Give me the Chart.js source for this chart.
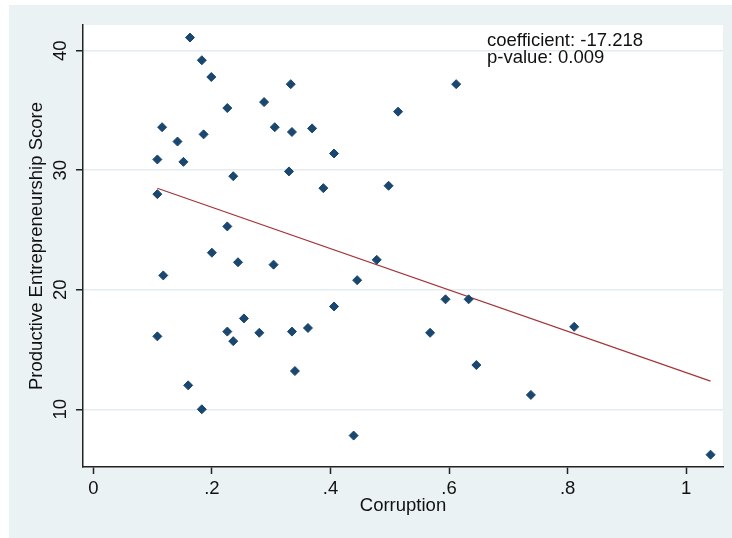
<!DOCTYPE html>
<html>
<head>
<meta charset="utf-8">
<script src="https://cdn.jsdelivr.net/npm/chart.js@4.4.1/dist/chart.umd.min.js"></script>
<style>
  html, body { margin: 0; padding: 0; background: #ffffff; }
  #wrap { position: absolute; left: 9px; top: 5px; width: 723px; height: 533px; background: #eaf2f3; }
</style>
</head>
<body>
<div id="wrap"><canvas id="chartOne"></canvas></div>
<script>
// corruption (x) and productive entrepreneurship score (y), one pair per country
var corruption = [0.163, 0.183, 0.199, 0.333, 0.288, 0.226, 0.116, 0.306, 0.369, 0.335,
                  0.142, 0.186, 0.108, 0.152, 0.330, 0.236, 0.108, 0.226, 0.514, 0.406,
                  0.388, 0.498, 0.478, 0.612, 0.200, 0.118, 0.244, 0.304, 0.406, 0.254,
                  0.226, 0.236, 0.280, 0.335, 0.362, 0.108, 0.340, 0.160, 0.183, 0.445,
                  0.594, 0.633, 0.568, 0.646, 0.439, 0.811, 0.738, 1.041];
var score = [41.1, 39.2, 37.8, 37.2, 35.7, 35.2, 33.6, 33.6, 33.5, 33.2,
             32.4, 33.0, 30.9, 30.7, 29.9, 29.5, 28.0, 25.3, 34.9, 31.4,
             28.5, 28.7, 22.5, 37.2, 23.1, 21.2, 22.3, 22.1, 18.6, 17.6,
             16.5, 15.7, 16.4, 16.5, 16.8, 16.1, 13.2, 12.0, 10.0, 20.8,
             19.2, 19.2, 16.4, 13.7, 7.8, 16.9, 11.2, 6.2];
// fitted line end points
var fitX = [0.108, 1.041];
var fitY = [28.49, 12.35];

var xTicks = [0, 0.2, 0.4, 0.6, 0.8, 1];
var xTickLabels = ["0", ".2", ".4", ".6", ".8", "1"];
var yTicks = [10, 20, 30, 40];
var notes = ["coefficient: -17.218", "p-value: 0.009"];

var points = corruption.map(function (c, i) { return { x: c, y: score[i] }; });
var fit = fitX.map(function (c, i) { return { x: c, y: fitY[i] }; });

var font = { family: "'Liberation Sans', Arial, sans-serif", size: 18.5 };

var plotBg = {
  id: 'plotBg',
  beforeDraw: function (chart) {
    var a = chart.chartArea, ctx = chart.ctx;
    ctx.save();
    ctx.fillStyle = '#ffffff';
    ctx.fillRect(a.left, a.top, a.right - a.left, a.bottom - a.top);
    ctx.restore();
  }
};

var noteText = {
  id: 'noteText',
  afterDraw: function (chart) {
    var ctx = chart.ctx;
    var x = chart.scales.x.getPixelForValue(0.664);
    ctx.save();
    ctx.font = font.size + "px " + font.family;
    ctx.fillStyle = '#111';
    ctx.textAlign = 'left';
    ctx.textBaseline = 'middle';
    notes.forEach(function (t, i) {
      ctx.fillText(t, x, chart.scales.y.getPixelForValue(40.8 - i * 1.42));
    });
    ctx.restore();
  }
};

Chart.defaults.color = '#111';

var ctx = document.getElementById("chartOne");
var chartOne = new Chart(ctx, {
  type: 'scatter',
  data: {
    datasets: [
      {
        data: points,
        pointStyle: 'rectRot',
        pointRadius: 4.5,
        pointBorderWidth: 1,
        backgroundColor: '#1a476f',
        borderColor: '#1a476f'
      },
      {
        data: fit,
        showLine: true,
        pointRadius: 0,
        borderColor: '#a3343a',
        borderWidth: 1.2
      }
    ]
  },
  options: {
    responsive: true,
    maintainAspectRatio: false,
    animation: false,
    layout: { padding: { top: 20, right: 9, left: 0, bottom: 0 } },
    plugins: { legend: { display: false }, tooltip: { enabled: false } },
    scales: {
      x: {
        type: 'linear',
        min: -0.0174,
        max: 1.062,
        afterBuildTicks: function (s) { s.ticks = xTicks.map(function (v) { return { value: v }; }); },
        afterFit: function (s) { s.height = 71; },
        ticks: {
          font: font,
          padding: 4,
          maxRotation: 0,
          callback: function (v, i) { return xTickLabels[i]; }
        },
        grid: { drawOnChartArea: false, tickLength: 7, tickColor: '#222', tickWidth: 1.5 },
        border: { color: '#222', width: 1.5 },
        title: { display: true, text: 'Corruption', font: font, padding: { top: 0, bottom: 21 } }
      },
      y: {
        type: 'linear',
        min: 5.17,
        max: 42.15,
        afterBuildTicks: function (s) { s.ticks = yTicks.map(function (v) { return { value: v }; }); },
        afterFit: function (s) { s.width = 74; },
        ticks: {
          font: font,
          padding: 5,
          minRotation: 90,
          maxRotation: 90,
          crossAlign: 'center'
        },
        grid: { color: '#e3ecef', lineWidth: 1.5, tickLength: 7, tickColor: '#222', tickWidth: 1.5 },
        border: { color: '#222', width: 1.5 },
        title: { display: true, text: 'Productive Entrepreneurship Score', font: font, padding: { top: 17, bottom: 0 } }
      }
    }
  },
  plugins: [plotBg, noteText]
});
</script>
</body>
</html>
